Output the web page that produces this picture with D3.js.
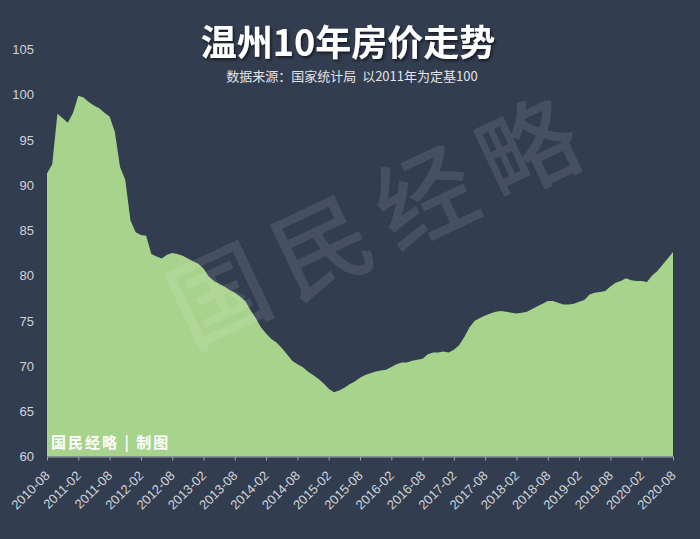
<!DOCTYPE html>
<html>
<head>
<meta charset="utf-8">
<script src="https://cdn.jsdelivr.net/npm/d3@7"></script>
<style>
  html, body { margin: 0; padding: 0; background: #333d50; }
  svg { display: block; }
</style>
</head>
<body>
<script>
const w = 700;
const h = 539;

// monthly index, 2010-08 .. 2020-08 (2011 = 100)
const startMonth = '2010-08';
const endMonth = '2020-08';
const values = [
  91.3, 92.3, 97.9, 97.4, 96.9, 98.0, 99.9, 99.7, 99.2, 98.8, 98.5, 98.0,
  97.6, 95.9, 92.0, 90.6, 86.1, 84.8, 84.5, 84.4, 82.4, 82.1, 81.9, 82.3,
  82.5, 82.4, 82.2, 81.9, 81.6, 81.3, 80.8, 79.9, 79.4, 79.1, 78.8, 78.4,
  78.1, 77.7, 77.2, 76.2, 75.3, 74.3, 73.6, 73.0, 72.6, 72.0, 71.3, 70.6,
  70.2, 69.9, 69.4, 69.0, 68.6, 68.1, 67.5, 67.1, 67.3, 67.6, 68.0, 68.3,
  68.7, 69.0, 69.2, 69.4, 69.5, 69.6, 69.9, 70.2, 70.4, 70.4, 70.6, 70.7,
  70.8, 71.3, 71.5, 71.5, 71.6, 71.5, 71.8, 72.3, 73.2, 74.3, 75.0, 75.3,
  75.6, 75.8, 76.0, 76.1, 76.0, 75.9, 75.8, 75.9, 76.0, 76.3, 76.6, 76.9,
  77.2, 77.2, 77.0, 76.8, 76.8, 76.9, 77.1, 77.3, 77.9, 78.1, 78.2, 78.3,
  78.8, 79.2, 79.4, 79.7, 79.5, 79.4, 79.4, 79.3, 80.0, 80.5, 81.2, 81.9,
  82.6
];
const xTicks = ['2010-08','2011-02','2011-08','2012-02','2012-08','2013-02','2013-08',
  '2014-02','2014-08','2015-02','2015-08','2016-02','2016-08','2017-02','2017-08',
  '2018-02','2018-08','2019-02','2019-08','2020-02','2020-08'];
const yTicks = [60, 65, 70, 75, 80, 85, 90, 95, 100, 105];

const title = '温州10年房价走势';
const subtitle = '数据来源：国家统计局  以2011年为定基100';
const watermark = ['国', '民', '经', '略'];
const credit = '国民经略 | 制图';

const fmt = d3.timeFormat('%Y-%m');
const parse = d3.timeParse('%Y-%m');
const months = d3.timeMonth.range(parse(startMonth), d3.timeMonth.offset(parse(endMonth), 1)).map(fmt);
const data = months.map((m, i) => ({month: m, value: values[i]}));

const svg = d3.select('body').append('svg').attr('width', w).attr('height', h);

const defs = svg.append('defs');
const shadow = defs.append('filter').attr('id', 'shadow').attr('x', '-10%').attr('y', '-20%').attr('width', '120%').attr('height', '150%');
shadow.append('feDropShadow').attr('dx', 1.5).attr('dy', 2).attr('stdDeviation', 1.5)
  .attr('flood-color', '#000').attr('flood-opacity', 0.6);

svg.append('rect').attr('width', w).attr('height', h).attr('fill', '#333d50');

const x = d3.scalePoint().domain(months).range([47, 673]);
const y = d3.scaleLinear().domain([60, 105]).range([456.5, 49.5]);

// area
const area = d3.area()
  .x(d => x(d.month))
  .y0(y(60))
  .y1(d => y(d.value));

svg.append('path').datum(data).attr('d', area).attr('fill', '#a8d38c');

// watermark
const wm = svg.append('g').attr('transform', 'translate(374,223) rotate(-25.3)')
wm.selectAll('text').data(watermark).enter()
  .append('text')
  .attr('x', (d, i) => (i - 1.5) * 114)
  .attr('y', 0)
  .attr('dy', '0.36em')
  .attr('text-anchor', 'middle')
  .attr('font-family', '"Noto Sans CJK SC"')
  .attr('font-weight', 500)
  .attr('font-size', 98)
  .attr('fill', '#ffffff')
  .attr('fill-opacity', 0.1)
  .text(d => d);

// x axis
const xAxis = d3.axisBottom(x).tickValues(xTicks).tickSize(4).tickSizeOuter(0);
const gx = svg.append('g').attr('transform', 'translate(0,' + y(60) + ')').call(xAxis);
gx.select('.domain').attr('stroke', '#9aa3ad').attr('stroke-width', 1);
gx.selectAll('.tick line').attr('stroke', '#9aa3ad');
gx.selectAll('.tick text')
  .attr('fill', '#d0d3d8')
  .attr('font-family', '"Liberation Sans", Arial, sans-serif')
  .attr('font-size', 13)
  .attr('text-anchor', 'end')
  .attr('x', 0).attr('y', 0).attr('dy', 0)
  .attr('transform', 'translate(3,20) rotate(-45)');

// y axis labels only
svg.append('g').selectAll('text').data(yTicks).enter()
  .append('text')
  .attr('x', 34)
  .attr('y', d => y(d))
  .attr('dy', '0.36em')
  .attr('text-anchor', 'end')
  .attr('fill', '#d0d3d8')
  .attr('font-family', '"Liberation Sans", Arial, sans-serif')
  .attr('font-size', 13)
  .text(d => d);

// titles
svg.append('text')
  .attr('x', 348).attr('y', 56)
  .attr('text-anchor', 'middle')
  .attr('font-family', '"Noto Sans CJK SC", sans-serif')
  .attr('font-weight', 700)
  .attr('font-size', 36)
  .attr('fill', '#ffffff')
  .attr('filter', 'url(#shadow)')
  .text(title);

svg.append('text')
  .attr('x', 352).attr('y', 81)
  .attr('text-anchor', 'middle')
  .attr('font-family', '"Noto Sans CJK SC", sans-serif')
  .attr('font-size', 13)
  .attr('fill', '#e2e4e8')
  .attr('xml:space', 'preserve')
  .text(subtitle);

// credit
svg.append('text')
  .attr('x', 51).attr('y', 448)
  .attr('font-family', '"Noto Sans CJK SC", sans-serif')
  .attr('font-weight', 700)
  .attr('font-size', 15)
  .attr('letter-spacing', 2)
  .attr('fill', '#ffffff')
  .attr('xml:space', 'preserve')
  .text(credit);
</script>
</body>
</html>
